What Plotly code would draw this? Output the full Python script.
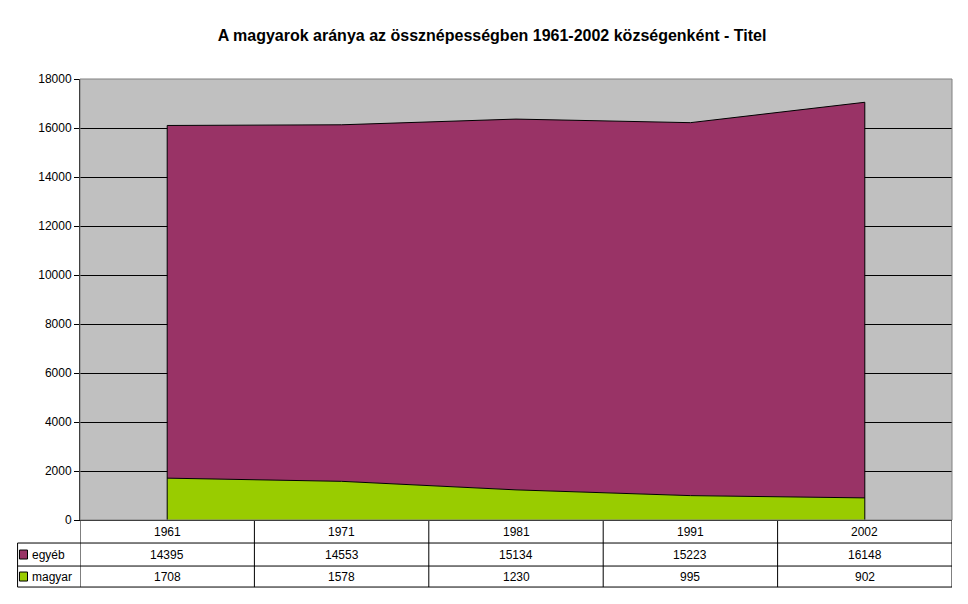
import plotly.graph_objects as go

years = ["1961", "1971", "1981", "1991", "2002"]
egyeb = [14395, 14553, 15134, 15223, 16148]
magyar = [1708, 1578, 1230, 995, 902]
y_ticks = [0, 2000, 4000, 6000, 8000, 10000, 12000, 14000, 16000, 18000]

title = "A magyarok aránya az össznépességben 1961-2002 községenként - Titel"
purple = "#993366"
green = "#99CC00"
font = "Liberation Sans, Arial, sans-serif"

x = list(range(len(years)))
total = [a + b for a, b in zip(magyar, egyeb)]

fig = go.Figure()
fig.add_trace(go.Scatter(x=x, y=magyar, stackgroup="one", name="magyar",
                         fillcolor=green, line=dict(color="black", width=1),
                         mode="lines", hoverinfo="y"))
fig.add_trace(go.Scatter(x=x, y=egyeb, stackgroup="one", name="egyéb",
                         fillcolor=purple, line=dict(color="black", width=1),
                         mode="lines", hoverinfo="y"))
# vertical outline edges of the areas
for i in (0, len(x) - 1):
    fig.add_trace(go.Scatter(x=[x[i], x[i]], y=[0, total[i]], mode="lines",
                             line=dict(color="black", width=1),
                             showlegend=False, hoverinfo="skip"))

shapes = []
annotations = []
# data table geometry (paper y)
r0, r1, r2, r3 = 0.0, -0.0522, -0.1044, -0.152
line = dict(color="black", width=1)
cell_font = dict(size=12, family=font, color="black")
# horizontal lines
for yy in (r1, r2, r3):
    shapes.append(dict(type="line", xref="paper", yref="paper", x0=-0.0716, x1=1.0,
                       y0=yy, y1=yy, line=line))
shapes.append(dict(type="line", xref="paper", yref="paper", x0=-0.0716, x1=-0.0716,
                   y0=r1, y1=r3, line=line))
for i in range(len(years) + 1):
    shapes.append(dict(type="line", xref="x", yref="paper", x0=i - 0.5, x1=i - 0.5,
                       y0=r0, y1=r3, line=line))
# cell texts
for i, yr in enumerate(years):
    for val, (ya, yb) in ((yr, (r0, r1)), (str(egyeb[i]), (r1, r2)), (str(magyar[i]), (r2, r3))):
        annotations.append(dict(x=i, xref="x", y=(ya + yb) / 2, yref="paper", text=val,
                                xanchor="center", yanchor="middle",
                                showarrow=False, font=cell_font))
# legend keys
for (lab, col, ya, yb) in (("egyéb", purple, r1, r2), ("magyar", green, r2, r3)):
    ym = (ya + yb) / 2
    shapes.append(dict(type="rect", xref="paper", yref="paper", x0=-0.0694, x1=-0.0602,
                       y0=ym - 0.0102, y1=ym + 0.0102, fillcolor=col,
                       line=dict(color="black", width=1)))
    annotations.append(dict(x=-0.0577, xref="paper", y=ym, yref="paper", text=lab,
                            xanchor="left", yanchor="middle", showarrow=False,
                            font=cell_font))

fig.update_layout(
    width=968, height=604,
    margin=dict(l=72, r=24, t=71, b=92),
    paper_bgcolor="white", plot_bgcolor="#C0C0C0",
    showlegend=False,
    title=dict(text="<b>" + title + "</b>", x=0.5, xanchor="center", y=0.955,
               yanchor="middle", font=dict(size=16, family=font, color="black")),
    xaxis=dict(range=[-0.5, len(years) - 0.5], showticklabels=False, showgrid=False,
               zeroline=False, showline=True, linecolor="black", linewidth=1,
               mirror=False, fixedrange=True),
    yaxis=dict(range=[0, 18000], tickvals=y_ticks, ticktext=[str(v) for v in y_ticks],
               showgrid=True, gridcolor="black",
               gridwidth=1, zeroline=False, showline=True, linecolor="black", linewidth=1,
               ticks="outside", ticklen=5, tickcolor="black",
               tickfont=dict(size=12, family=font, color="black"), fixedrange=True),
    shapes=shapes + [dict(type="rect", xref="paper", yref="paper", x0=0, x1=1, y0=0, y1=1,
                          line=dict(color="#808080", width=1), layer="above")],
    annotations=annotations,
)

fig.write_html("out.html")
